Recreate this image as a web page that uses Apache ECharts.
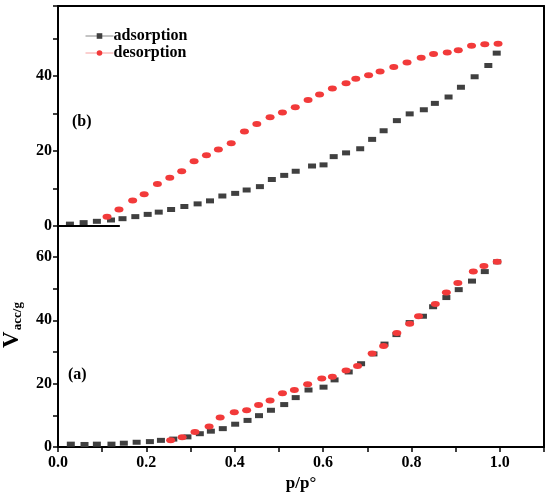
<!DOCTYPE html>
<html>
<head>
<meta charset="utf-8">
<script src="https://cdn.jsdelivr.net/npm/echarts@6/dist/echarts.min.js"></script>
<style>html,body{margin:0;padding:0;background:#fff;}#c{width:550px;height:498px;}</style>
</head>
<body>
<div id="c"></div>
<script>
// Panel (b) – top
var bAdsX = [0.027,0.058,0.088,0.12,0.146,0.175,0.203,0.228,0.256,0.286,0.316,0.344,0.372,0.401,0.427,0.457,0.484,0.512,0.538,0.575,0.601,0.624,0.652,0.684,0.711,0.737,0.767,0.796,0.828,0.853,0.884,0.912,0.943,0.974,0.993];
var bAdsY = [0.5,0.9,1.25,1.6,1.95,2.5,3.1,3.7,4.4,5.2,5.9,6.7,8.0,8.7,9.6,10.5,12.4,13.5,14.6,16.0,16.3,18.5,19.5,20.6,23.1,25.4,28.1,29.9,31.0,32.7,34.4,37.0,39.8,42.8,46.1];
var bDesX = [0.111,0.138,0.169,0.195,0.225,0.253,0.28,0.308,0.336,0.363,0.392,0.422,0.45,0.48,0.508,0.537,0.566,0.592,0.621,0.652,0.674,0.703,0.729,0.76,0.79,0.822,0.85,0.881,0.906,0.936,0.966,0.996];
var bDesY = [2.5,4.4,6.8,8.5,11.2,12.9,14.6,17.3,18.9,20.4,22.1,25.2,27.2,29.0,30.3,31.7,33.6,35.1,36.7,38.1,39.3,40.2,41.2,42.4,43.6,44.9,45.9,46.3,46.9,48.1,48.5,48.6];
// Panel (a) – bottom
var aAdsX = [0.029,0.06,0.088,0.121,0.149,0.178,0.208,0.233,0.261,0.293,0.321,0.346,0.373,0.401,0.429,0.455,0.482,0.512,0.538,0.567,0.601,0.626,0.658,0.686,0.714,0.739,0.766,0.796,0.826,0.849,0.879,0.907,0.937,0.966,0.994];
var aAdsY = [0.9,0.8,0.9,0.9,1.2,1.5,1.7,2.1,2.5,3.2,4.2,5.0,5.8,7.2,8.4,9.9,11.6,13.4,15.6,18.0,18.9,21.2,23.7,26.3,29.4,32.5,35.5,39.3,41.3,44.3,47.2,49.7,52.4,55.4,58.5];
var aDesX = [0.255,0.281,0.31,0.342,0.367,0.399,0.427,0.454,0.48,0.508,0.535,0.565,0.597,0.621,0.652,0.678,0.711,0.737,0.767,0.796,0.816,0.854,0.879,0.905,0.94,0.964,0.994];
var aDesY = [2.1,3.1,4.7,6.5,9.3,11.0,11.6,13.3,14.7,17.0,18.0,19.8,21.6,22.2,24.2,25.6,29.5,31.9,36.0,38.9,41.3,45.2,48.8,51.8,55.4,57.2,58.5];

var seriesNames = ['adsorption','desorption'];
var xTickLabels = ['0.0','0.2','0.4','0.6','0.8','1.0'];
var shortBaseLine = [[0,0],[0.14,0]];

function pairs(xs, ys){ return xs.map(function(x,i){ return [x, ys[i]]; }); }

var FONT = 'Liberation Serif';
var GRAY = '#404040', RED = '#f23a3a';
var lblStyle = {fontFamily: FONT, fontWeight: 'bold', fontSize: 16, color: '#000'};
var axLine = {show: true, onZero: false, lineStyle: {color: '#000', width: 2}};

function leftY(grid, max, showName){
  var o = {
    type: 'value', gridIndex: grid, position: 'left', min: 0, max: max, interval: 20,
    axisLine: axLine,
    axisTick: {show: true, inside: false, length: 5, lineStyle: {color: '#000', width: 1.5}},
    minorTick: {show: true, splitNumber: 2, length: 5, lineStyle: {color: '#000', width: 1.5}},
    axisLabel: Object.assign({margin: 6, showMaxLabel: false}, lblStyle),
    splitLine: {show: false}
  };
  if (showName) {
    o.name = '{v|V}{s|acc/g}';
    o.nameLocation = 'middle';
    o.nameGap = 34;
    o.nameRotate = 90;
    o.nameTextStyle = {
      padding: [0, 0, 0, 23],
      rich: {
        v: {fontFamily: FONT, fontWeight: 'bold', fontSize: 23, color: '#000', verticalAlign: 'bottom'},
        s: {fontFamily: FONT, fontWeight: 'bold', fontSize: 13, color: '#000', verticalAlign: 'bottom', padding: [0,0,0,1]}
      }
    };
  }
  return o;
}
function rightY(grid, max){
  return {type: 'value', gridIndex: grid, position: 'right', min: 0, max: max,
    axisLine: axLine, axisTick: {show: false}, axisLabel: {show: false}, splitLine: {show: false}};
}

var option = {
  backgroundColor: '#fff',
  animation: false,
  grid: [
    {left: 58, right: 6, top: 6, height: 220, outerBoundsMode: 'none', containLabel: false},
    {left: 58, right: 6, top: 226, height: 221, outerBoundsMode: 'none', containLabel: false}
  ],
  legend: {
    orient: 'vertical', left: 80, top: 23, itemGap: 1, itemWidth: 28, itemHeight: 7,
    textStyle: {fontFamily: FONT, fontWeight: 'bold', fontSize: 16, color: '#000', padding: [0,0,0,-5]},
    data: [
      {name: seriesNames[0], lineStyle: {color: '#888', width: 1, opacity: 1}, itemStyle: {color: GRAY}},
      {name: seriesNames[1], lineStyle: {color: '#f7a0a0', width: 1, opacity: 1}, itemStyle: {color: RED}}
    ]
  },
  xAxis: [
    {type: 'value', gridIndex: 0, position: 'top', min: 0, max: 1.1,
      axisLine: axLine, axisTick: {show: false}, axisLabel: {show: false}, splitLine: {show: false}},
    {type: 'value', gridIndex: 1, position: 'bottom', min: 0, max: 1.1, interval: 0.2,
      name: 'p/p°', nameLocation: 'middle', nameGap: 28,
      nameTextStyle: {fontFamily: FONT, fontWeight: 'bold', fontSize: 17, color: '#000'},
      axisLine: axLine,
      axisTick: {show: true, inside: false, length: 5, lineStyle: {color: '#000', width: 1.5}},
      minorTick: {show: true, splitNumber: 2, length: 5, lineStyle: {color: '#000', width: 1.5}},
      axisLabel: Object.assign({margin: 8, showMaxLabel: false, formatter: function(v){ var s = v.toFixed(1); return xTickLabels.indexOf(s) >= 0 ? s : ''; }}, lblStyle),
      splitLine: {show: false}}
  ],
  yAxis: [
    leftY(0, 58.67, false),
    rightY(0, 58.67),
    leftY(1, 69.8, true),
    rightY(1, 69.8)
  ],
  series: [
    {name: seriesNames[0], type: 'line', xAxisIndex: 0, yAxisIndex: 0, data: pairs(bAdsX, bAdsY),
      symbol: 'rect', symbolSize: [8,5], itemStyle: {color: GRAY}, lineStyle: {opacity: 0}, clip: false,
      markLine: {silent: true, symbol: 'none', label: {show: false}, lineStyle: {color: '#000', width: 2, type: 'solid'},
        data: [[{coord: shortBaseLine[0]}, {coord: shortBaseLine[1]}]]}},
    {name: seriesNames[1], type: 'line', xAxisIndex: 0, yAxisIndex: 0, data: pairs(bDesX, bDesY),
      symbol: 'circle', symbolSize: [9,6], itemStyle: {color: RED}, lineStyle: {opacity: 0}, clip: false},
    {name: seriesNames[0], type: 'line', xAxisIndex: 1, yAxisIndex: 2, data: pairs(aAdsX, aAdsY),
      symbol: 'rect', symbolSize: [8,5], itemStyle: {color: GRAY}, lineStyle: {opacity: 0}, clip: false},
    {name: seriesNames[1], type: 'line', xAxisIndex: 1, yAxisIndex: 2, data: pairs(aDesX, aDesY),
      symbol: 'circle', symbolSize: [9,6], itemStyle: {color: RED}, lineStyle: {opacity: 0}, clip: false}
  ],
  graphic: [
    {type: 'text', left: 72, top: 114, style: {text: '(b)', font: 'bold 16px "Liberation Serif"', fill: '#000'}},
    {type: 'text', left: 68, top: 367, style: {text: '(a)', font: 'bold 16px "Liberation Serif"', fill: '#000'}}
  ]
};
var chart = echarts.init(document.getElementById('c'));
chart.setOption(option);
</script>
</body>
</html>
